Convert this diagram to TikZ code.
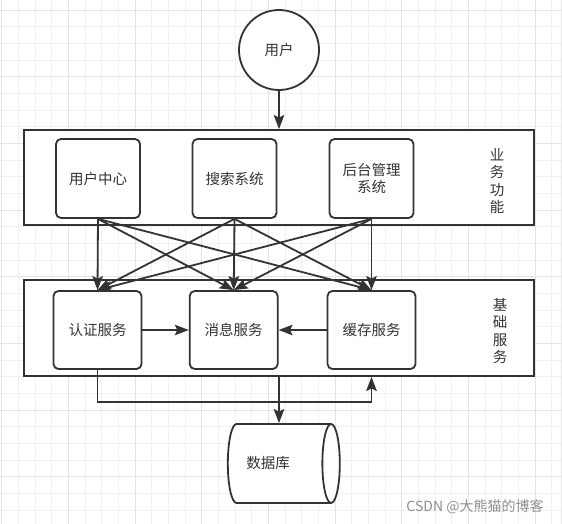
\documentclass[tikz,border=0pt]{standalone}
\usepackage{fontspec}
\setmainfont{Noto Sans CJK SC}
\usetikzlibrary{arrows.meta,shapes.geometric}
\definecolor{linegray}{HTML}{333333}
\definecolor{gridminor}{HTML}{F1F1F1}
\definecolor{gridmajor}{HTML}{E4E4E4}
\definecolor{markgray}{HTML}{8E8E8E}

\begin{document}
\begin{tikzpicture}[x=1pt,y=-1pt,>={Stealth[length=14pt,width=10.5pt,inset=2.5pt]},
  line width=1.8pt,color=linegray,font=\fontsize{14.5}{17.4}\selectfont,
  main node/.style={rectangle,rounded corners=5pt,draw,fill=white,minimum width=84pt,
    minimum height=79pt,inner sep=0pt,align=center},
  layer node/.style={rectangle,draw,fill=white,minimum width=510pt,minimum height=95pt,inner sep=0pt},
  side label/.style={align=center,inner sep=0pt}]
  \useasboundingbox (0,0) rectangle (562,524);
  % background grid
  \foreach \k in {0,...,33}
    \draw[gridminor,line width=0.8pt] (1.67+16.667*\k,0) -- (1.67+16.667*\k,524);
  \foreach \k in {0,...,30}
    \draw[gridminor,line width=0.8pt] (0,10+16.667*\k) -- (562,10+16.667*\k);
  \foreach \k in {0,4,...,32}
    \draw[gridmajor,line width=0.8pt] (1.67+16.667*\k,0) -- (1.67+16.667*\k,524);
  \foreach \k in {0,4,...,28}
    \draw[gridmajor,line width=0.8pt] (0,10+16.667*\k) -- (562,10+16.667*\k);
  \draw[gridmajor!80!black!30,line width=1.5pt] (561.25,0) -- (561.25,524);

  \node[circle,draw,fill=white,minimum size=80pt,inner sep=0pt] (user) at (279,50) {用户};

  % business layer
  \node[layer node] (biz) at (279,177.5) {};
  \node[main node] (uc) at (98,178.5) {用户中心};
  \node[main node] (search) at (234.5,178.5) {搜索系统};
  \node[main node] (admin) at (371.5,178.5) {后台管理\\系统};
  \node[side label] (bizlabel) at (497,181) {业\\务\\功\\能};

  % base services layer
  \node[layer node,minimum height=96pt] (base) at (279,328) {};
  \node[main node,minimum width=88pt,minimum height=78pt] (auth) at (97.5,330) {认证服务};
  \node[main node,minimum width=88pt,minimum height=78pt] (msg) at (233.7,330) {消息服务};
  \node[main node,minimum width=88pt,minimum height=78pt] (cache) at (371.5,330) {缓存服务};
  \node[side label] (baselabel) at (500,331) {基\\础\\服\\务};

  \node[cylinder,draw,fill=white,shape border rotate=0,aspect=1.3,
    minimum width=79pt,minimum height=112pt,inner sep=0pt] (db) at (279,463.5) {数据库\hspace*{22pt}};

  \node[text=markgray,font=\fontsize{14}{16}\selectfont] (mark) at (475,507) {CSDN @大熊猫的博客};

  \draw[->] (user.south) -- (biz.north);
  \path[->]
    (uc.south) edge (auth.north)
               edge (msg.north)
               edge (cache.north)
    (search.south) edge (auth.north)
               edge (msg.north)
               edge (cache.north)
    (admin.south) edge (auth.north)
               edge (msg.north)
               edge (cache.north);
  \draw[->] (auth) -- (msg);
  \draw[->] (cache) -- (msg);
  \draw[->] (auth.south) -- ++(0,32) -| (cache.south |- base.south);
  \draw[->] (base.south) -- (base.south |- db.north);
\end{tikzpicture}
\end{document}
